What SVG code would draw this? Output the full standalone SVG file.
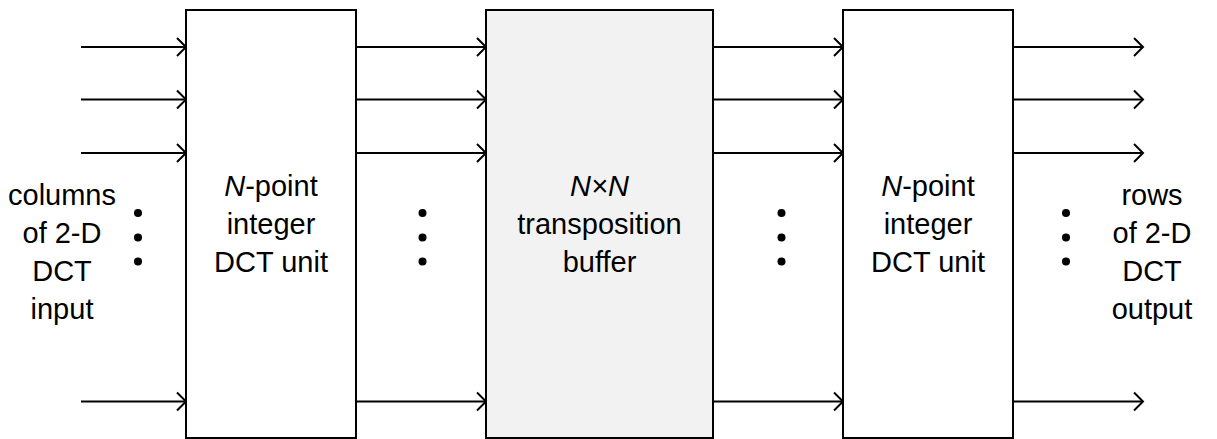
<svg xmlns="http://www.w3.org/2000/svg" width="1217" height="439" viewBox="0 0 1217 439">
  <style>
    .box { stroke: #000; stroke-width: 2; }
    .w { fill: #ffffff; }
    .g { fill: #f2f2f2; }
    .ln { stroke: #000; stroke-width: 2; fill: none; }
    .t { font-family: "Liberation Sans", Arial, sans-serif; font-size: 29px; fill: #000; text-anchor: middle; }
    .dot { fill: #000; }
  </style>
  <defs>
    <marker id="ah" markerUnits="userSpaceOnUse" markerWidth="14" markerHeight="22" refX="11" refY="11" orient="auto" viewBox="0 0 14 22">
      <path d="M2,2 L11,11 L2,20" fill="none" stroke="#000" stroke-width="2"/>
    </marker>
  </defs>
  <rect width="1217" height="439" fill="#ffffff"/>

  <g id="connectors">
    <line class="ln" x1="81" y1="47" x2="186" y2="47" marker-end="url(#ah)"/>
    <line class="ln" x1="81" y1="99.5" x2="186" y2="99.5" marker-end="url(#ah)"/>
    <line class="ln" x1="81" y1="153" x2="186" y2="153" marker-end="url(#ah)"/>
    <line class="ln" x1="81" y1="401.5" x2="186" y2="401.5" marker-end="url(#ah)"/>

    <line class="ln" x1="356" y1="47" x2="486" y2="47" marker-end="url(#ah)"/>
    <line class="ln" x1="356" y1="99.5" x2="486" y2="99.5" marker-end="url(#ah)"/>
    <line class="ln" x1="356" y1="153" x2="486" y2="153" marker-end="url(#ah)"/>
    <line class="ln" x1="356" y1="401.5" x2="486" y2="401.5" marker-end="url(#ah)"/>

    <line class="ln" x1="713" y1="47" x2="843" y2="47" marker-end="url(#ah)"/>
    <line class="ln" x1="713" y1="99.5" x2="843" y2="99.5" marker-end="url(#ah)"/>
    <line class="ln" x1="713" y1="153" x2="843" y2="153" marker-end="url(#ah)"/>
    <line class="ln" x1="713" y1="401.5" x2="843" y2="401.5" marker-end="url(#ah)"/>

    <line class="ln" x1="1013" y1="47" x2="1143" y2="47" marker-end="url(#ah)"/>
    <line class="ln" x1="1013" y1="99.5" x2="1143" y2="99.5" marker-end="url(#ah)"/>
    <line class="ln" x1="1013" y1="153" x2="1143" y2="153" marker-end="url(#ah)"/>
    <line class="ln" x1="1013" y1="401.5" x2="1143" y2="401.5" marker-end="url(#ah)"/>
  </g>

  <g id="dct1">
    <rect class="box w" x="186" y="10" width="170" height="428"/>
    <text class="t" x="271" y="196"><tspan font-style="italic">N</tspan>-point</text>
    <text class="t" x="271" y="234">integer</text>
    <text class="t" x="271" y="272">DCT unit</text>
  </g>

  <g id="buffer">
    <rect class="box g" x="486" y="10" width="227" height="428"/>
    <text class="t" x="599.5" y="196" font-style="italic">N×N</text>
    <text class="t" x="599.5" y="234">transposition</text>
    <text class="t" x="599.5" y="272">buffer</text>
  </g>

  <g id="dct2">
    <rect class="box w" x="843" y="10" width="170" height="428"/>
    <text class="t" x="928" y="196"><tspan font-style="italic">N</tspan>-point</text>
    <text class="t" x="928" y="234">integer</text>
    <text class="t" x="928" y="272">DCT unit</text>
  </g>

  <g id="input-label">
    <text class="t" x="62" y="205">columns</text>
    <text class="t" x="62" y="243">of 2-D</text>
    <text class="t" x="62" y="281">DCT</text>
    <text class="t" x="62" y="319">input</text>
  </g>

  <g id="output-label">
    <text class="t" x="1152" y="205">rows</text>
    <text class="t" x="1152" y="243">of 2-D</text>
    <text class="t" x="1152" y="281">DCT</text>
    <text class="t" x="1152" y="319">output</text>
  </g>

  <g id="dots">
    <circle class="dot" cx="138" cy="213" r="4"/>
    <circle class="dot" cx="138" cy="237.5" r="4"/>
    <circle class="dot" cx="138" cy="261.5" r="4"/>
    <circle class="dot" cx="422.5" cy="213" r="4"/>
    <circle class="dot" cx="422.5" cy="237.5" r="4"/>
    <circle class="dot" cx="422.5" cy="261.5" r="4"/>
    <circle class="dot" cx="781.5" cy="213" r="4"/>
    <circle class="dot" cx="781.5" cy="237.5" r="4"/>
    <circle class="dot" cx="781.5" cy="261.5" r="4"/>
    <circle class="dot" cx="1066" cy="213" r="4"/>
    <circle class="dot" cx="1066" cy="237.5" r="4"/>
    <circle class="dot" cx="1066" cy="261.5" r="4"/>
  </g>
</svg>
